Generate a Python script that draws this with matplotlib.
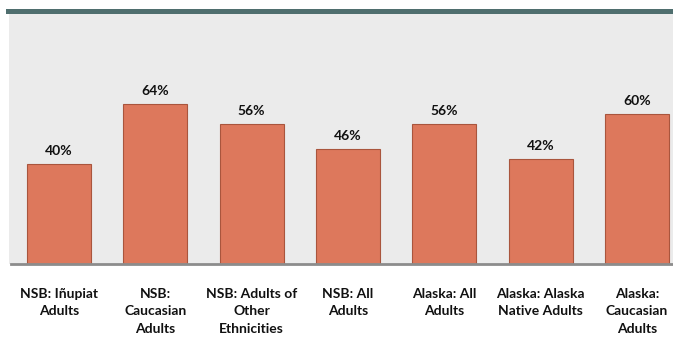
import matplotlib
matplotlib.use("Agg")
import matplotlib.pyplot as plt
from matplotlib.patches import Rectangle

categories = [
    "NSB: Iñupiat\nAdults",
    "NSB:\nCaucasian\nAdults",
    "NSB: Adults of\nOther\nEthnicities",
    "NSB: All\nAdults",
    "Alaska: All\nAdults",
    "Alaska: Alaska\nNative Adults",
    "Alaska:\nCaucasian\nAdults",
]
values = [40, 64, 56, 46, 56, 42, 60]

W, H = 673, 354
fig = plt.figure(figsize=(W / 100, H / 100), dpi=100)
fig.patch.set_facecolor("white")

# header strip
fig.add_artist(Rectangle((6 / W, 1 - 14 / H), 1, 5 / H, transform=fig.transFigure,
                         facecolor="#4f6e6e", edgecolor="none"))

# plot panel in pixel coordinates
left, right, top, bottom = 9, 673, 14, 264
ax = fig.add_axes([left / W, 1 - bottom / H, (right - left) / W, (bottom - top) / H])
ax.set_facecolor("#ebebeb")

x0, step = 59, 96.3
ax.set_xlim((left - x0) / step, (right - x0) / step)
ax.set_ylim(0, 100)

xs = range(len(values))
bars = ax.bar(xs, values, width=64 / step, color="#dd785c", edgecolor="#a9553d", linewidth=0.8)

font = ["Lato", "DejaVu Sans"]
for x, v in zip(xs, values):
    ax.annotate(f"{v}%", (x, v), xytext=(0, 5), textcoords="offset points",
                ha="center", va="bottom", fontsize=10, fontweight="bold", family=font,
                color="#111111")

for spine in ax.spines.values():
    spine.set_visible(False)
ax.axhline(0, color="#8c8c8c", linewidth=2, xmin=2 / (right - left), clip_on=False)

ax.set_xticks(list(xs))
ax.set_xticklabels(categories, fontsize=10, fontweight="bold", family=font,
                   linespacing=1.55, va="top", color="#111111")
ax.tick_params(axis="x", length=0, pad=17)
ax.set_yticks([])

fig.savefig("out.png", dpi=100)
